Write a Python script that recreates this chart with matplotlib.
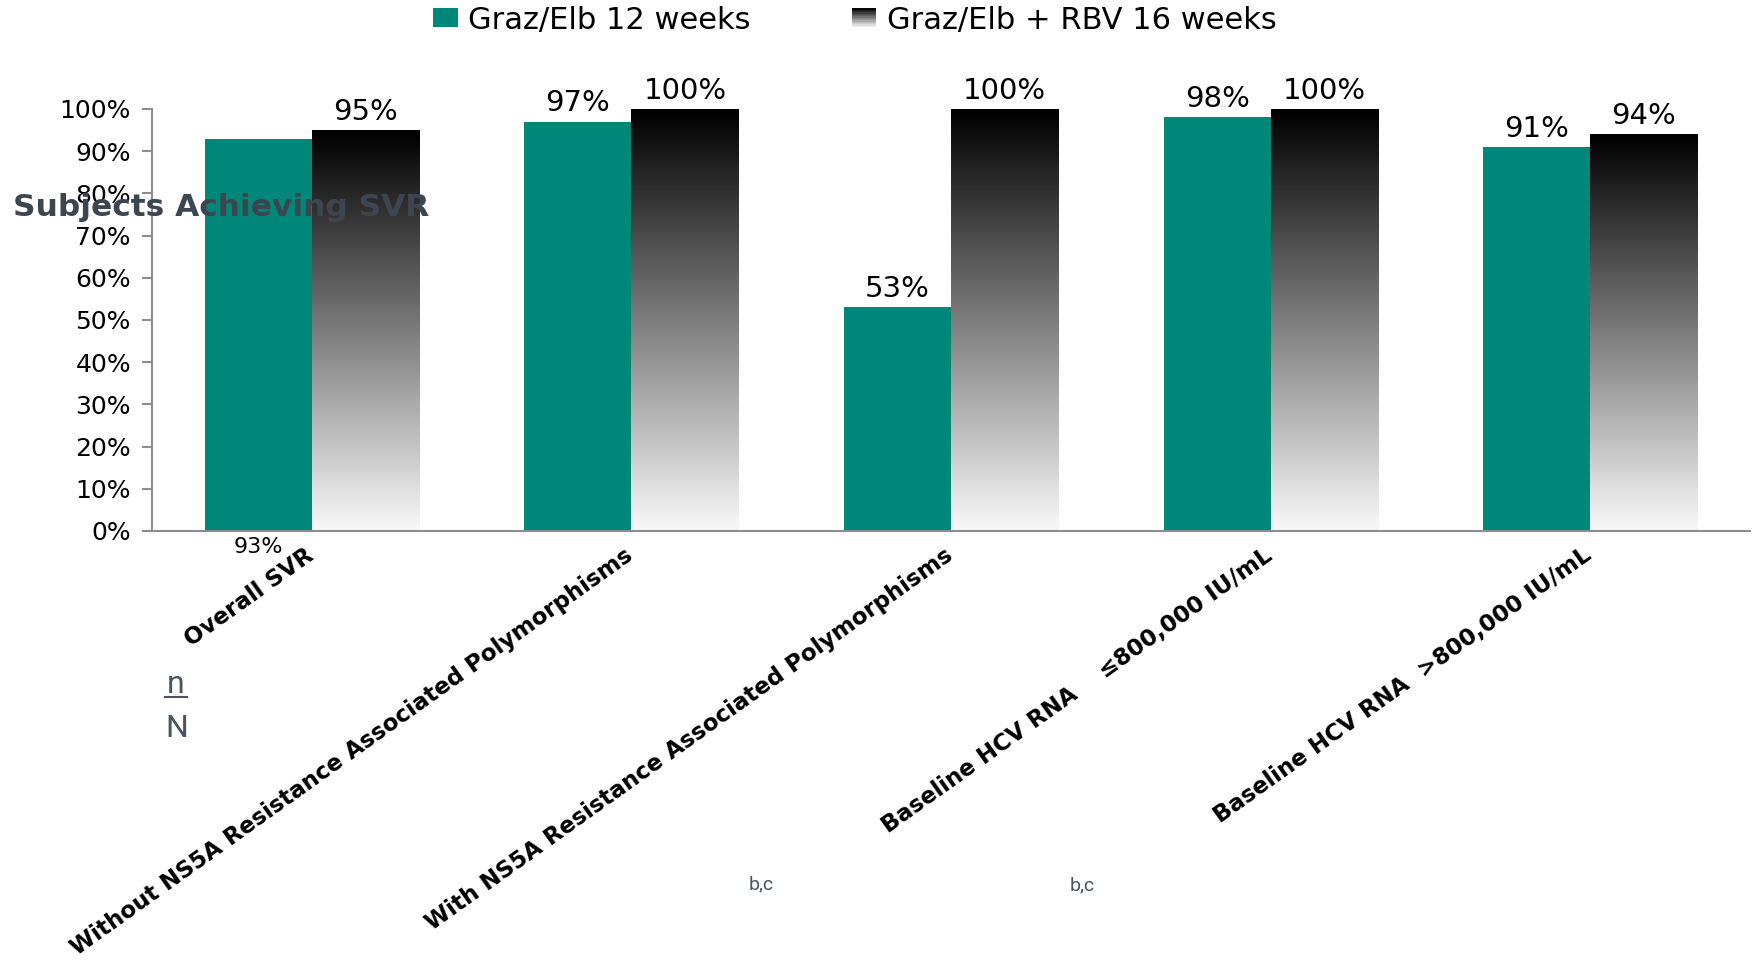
import numpy as np
import matplotlib
matplotlib.use("Agg")
import matplotlib.pyplot as plt
from matplotlib.legend_handler import HandlerBase
from matplotlib.patches import Rectangle, Patch
from matplotlib.lines import Line2D
from matplotlib.transforms import ScaledTranslation

# ---------------- data ----------------
categories = [
    "Overall SVR",
    "Without NS5A Resistance Associated Polymorphisms",
    "With NS5A Resistance Associated Polymorphisms",
    "Baseline HCV RNA    \u2264800,000 IU/mL",
    "Baseline HCV RNA  >800,000 IU/mL",
]
series_names = ["Graz/Elb 12 weeks", "Graz/Elb + RBV 16 weeks"]
svr_12wk = [93, 97, 53, 98, 91]
svr_16wk = [95, 100, 100, 100, 94]
y_ticks = [0, 10, 20, 30, 40, 50, 60, 70, 80, 90, 100]
y_label = "Subjects Achieving SVR"
footnotes = ["b,c", "b,c"]

TEAL = "#00877a"
SLATE = "#3c4650"
GRAYTXT = "#4a5560"
AXCOL = "#8c8c8c"

plt.rcParams["font.family"] = ["DejaVu Sans"]

fig = plt.figure(figsize=(17.54, 9.68), dpi=100)
W, H = 1754, 968
ax = fig.add_axes([152 / W, 1 - 531 / H, 1598 / W, (531 - 109) / H])

x = np.arange(len(categories))
bw = 0.335
b1 = ax.bar(x - bw / 2, svr_12wk, width=bw, color=TEAL, zorder=2)
b2 = ax.bar(x + bw / 2, svr_16wk, width=bw, facecolor="none", edgecolor="none", zorder=2)

grad = np.linspace(0.975, 0.0, 256).reshape(-1, 1)
for r in b2:
    x0, w, h = r.get_x(), r.get_width(), r.get_height()
    ax.imshow(grad, extent=[x0, x0 + w, 0, h], origin="lower", cmap="gray",
              vmin=0, vmax=1, aspect="auto", interpolation="bilinear", zorder=2)

ax.set_xlim(-0.5, len(categories) - 0.5)
ax.set_ylim(0, 100)

# data labels
for i, (r, v) in enumerate(zip(b1, svr_12wk)):
    cx = r.get_x() + r.get_width() / 2
    if i == 0:
        ax.annotate(f"{v}%", (cx, 0), xytext=(0, -11.5), textcoords="offset points",
                    ha="center", va="center", fontsize=16, annotation_clip=False)
    else:
        ax.annotate(f"{v}%", (cx, v), xytext=(0, 7.5), textcoords="offset points",
                    ha="center", va="baseline", fontsize=21, annotation_clip=False)
for r, v in zip(b2, svr_16wk):
    cx = r.get_x() + r.get_width() / 2
    ax.annotate(f"{v}%", (cx, v), xytext=(0, 7.5), textcoords="offset points",
                ha="center", va="baseline", fontsize=21, annotation_clip=False)

# axes styling
for s in ["top", "right"]:
    ax.spines[s].set_visible(False)
for s in ["left", "bottom"]:
    ax.spines[s].set_color(AXCOL)
    ax.spines[s].set_linewidth(1.5)
ax.set_yticks(y_ticks)
ax.set_yticklabels([f"{t}%" for t in y_ticks], fontsize=18)
ax.tick_params(axis="y", length=7.2, width=1.5, color=AXCOL, pad=8)
ax.set_xticks(x)
ax.set_xticklabels(categories, rotation=35.5, ha="right", va="top",
                   fontsize=16.6, fontweight="bold")
ax.tick_params(axis="x", length=0, pad=9)
off = ScaledTranslation(6 / 100, 0, fig.dpi_scale_trans)
for lab in ax.get_xticklabels():
    lab.set_transform(lab.get_transform() + off)


# legend with gradient handle
class GradientHandler(HandlerBase):
    def create_artists(self, legend, orig_handle, xdescent, ydescent, width,
                       height, fontsize, trans):
        n = 14
        arts = []
        for i in range(n):
            g = 0.97 * (1 - (i + 0.5) / n)
            arts.append(Rectangle((-xdescent, -ydescent + i * height / n), width,
                                  height / n + 0.3, facecolor=(g, g, g),
                                  edgecolor="none", transform=trans))
        return arts


h1 = Patch(facecolor=TEAL)
h2 = Patch(facecolor="black")
fig.legend([h1, h2], series_names, loc="center", bbox_to_anchor=(855 / W, 1 - 20 / H),
           ncol=2, frameon=False, fontsize=22, handlelength=0.8, handleheight=0.55,
           handletextpad=0.35, columnspacing=3.3, borderpad=0,
           handler_map={h2: GradientHandler()})

# y label overlay
fig.text(13 / W, 1 - 207 / H, y_label, fontsize=22.5, fontweight="bold", color=SLATE,
         ha="left", va="center", zorder=5)

# n / N
fig.text(176 / W, 1 - 693 / H, "n", fontsize=23, color=GRAYTXT, family="Roboto",
         ha="center", va="baseline")
fig.add_artist(Line2D([165 / W, 187 / W], [1 - 697 / H, 1 - 697 / H], color=GRAYTXT,
                      lw=1.5, transform=fig.transFigure))
fig.text(177 / W, 1 - 737 / H, "N", fontsize=23, color=GRAYTXT, family="Roboto",
         ha="center", va="baseline")

# footnotes
for fx, fy, t in [(761, 889, footnotes[0]), (1082, 890, footnotes[1])]:
    fig.text(fx / W, 1 - fy / H, t, fontsize=14, color=GRAYTXT, family="Roboto",
             ha="center", va="baseline")

fig.savefig("out.png", dpi=100)
